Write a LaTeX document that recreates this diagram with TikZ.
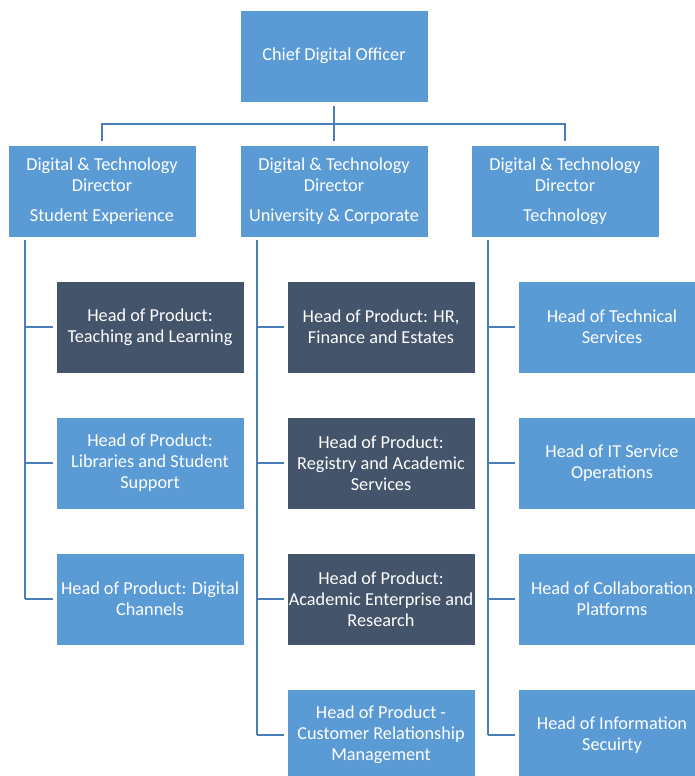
\documentclass[tikz,border=0pt]{standalone}
\usepackage{fontspec}
\setmainfont{Carlito}
\definecolor{boxblue}{HTML}{5B9BD5}
\definecolor{boxdark}{HTML}{44546A}
\definecolor{linkblue}{HTML}{4A7EBB}
\begin{document}
\begin{tikzpicture}[x=0.75pt, y=-0.75pt, font=\fontsize{13.7}{15.7}\selectfont,
	unit/.style={draw=white, thin, fill=boxblue, text=white, minimum width=141pt,
		minimum height=69pt, align=center, inner sep=1pt},
	product/.style={unit, fill=boxdark},
	link/.style={draw=linkblue, line width=2pt}]
	\clip (0,0) rectangle (695,776);
	\fill[white] (0,0) rectangle (695,776);
	%top
	\node[unit] (cdo) at (334,56) {Chief Digital Officer};
	%directors
	\node[unit] (dirS) at (102,191) {Digital \& Technology\\Director\\[6.5pt]Student Experience};
	\node[unit] (dirU) at (334,191) {Digital \& Technology\\Director\\[6.5pt]University \& Corporate};
	\node[unit] (dirT) at (565,191) {Digital \& Technology\\Director\\[6.5pt]Technology};
	\coordinate (bus) at (334,124);
	\foreach \d in {dirS,dirU,dirT}
	\draw[link, shorten <=2.5pt, shorten >=2.5pt] (cdo.south) -- (bus) -| (\d.north);
	%student experience
	\node[product] (ps1) at (150,327) {Head of Product:\\Teaching and Learning};
	\node[unit] (ps2) at (150,463) {Head of Product:\\Libraries and Student\\Support};
	\node[unit] (ps3) at (150,599) {Head of Product: Digital\\Channels};
	\coordinate (topS) at (25,0);
	\draw[link, shorten <=2pt] (dirS.south -| topS) -- (ps3.west -| topS);
	\foreach \c in {ps1,ps2,ps3}
	\draw[link, shorten <=2pt] (\c.west) -- (\c.west -| topS);
	%university and corporate
	\node[product] (pu1) at (381,327) {Head of Product: HR,\\Finance and Estates};
	\node[product] (pu2) at (381,463) {Head of Product:\\Registry and Academic\\Services};
	\node[product] (pu3) at (381,599) {Head of Product:\\Academic Enterprise and\\Research};
	\node[unit] (pu4) at (381,735) {Head of Product -\\Customer Relationship\\Management};
	\coordinate (topU) at (257,0);
	\draw[link, shorten <=2pt] (dirU.south -| topU) -- (pu4.west -| topU);
	\foreach \c in {pu1,pu2,pu3,pu4}
	\draw[link, shorten <=2pt] (\c.west) -- (\c.west -| topU);
	%technology
	\node[unit] (pt1) at (612,327) {Head of Technical\\Services};
	\node[unit] (pt2) at (612,463) {Head of IT Service\\Operations};
	\node[unit] (pt3) at (612,599) {Head of Collaboration\\Platforms};
	\node[unit] (pt4) at (612,735) {Head of Information\\Secuirty};
	\coordinate (topT) at (488,0);
	\draw[link, shorten <=2pt] (dirT.south -| topT) -- (pt4.west -| topT);
	\foreach \c in {pt1,pt2,pt3,pt4}
	\draw[link, shorten <=2pt] (\c.west) -- (\c.west -| topT);
\end{tikzpicture}
\end{document}
